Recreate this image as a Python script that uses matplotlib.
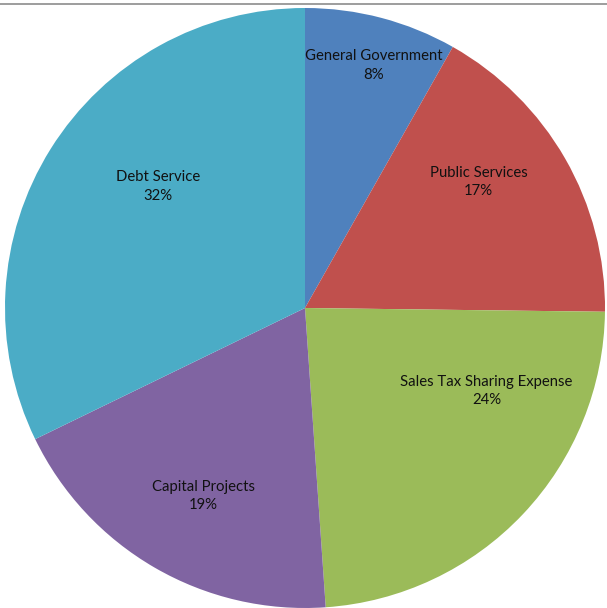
import matplotlib
matplotlib.use("Agg")
import matplotlib.pyplot as plt
from matplotlib.lines import Line2D

# data
categories = ["General Government", "Public Services", "Sales Tax Sharing Expense",
              "Capital Projects", "Debt Service"]
shares = [8.2, 17.0, 23.7, 18.9, 32.2]
colors = ["#4F81BD", "#C0504D", "#9BBB59", "#8064A2", "#4BACC6"]

# label placement inside the pie (axes data units), like the excel layout
label_xy = [(0.228, 0.808), (0.578, 0.42), (0.605, -0.277),
            (-0.338, -0.627), (-0.49, 0.405)]

W, H = 607, 608
fig = plt.figure(figsize=(W / 100, H / 100), dpi=100)

# pie box in pixels: left 5, right 605, top 8, bottom 608
ax = fig.add_axes([5 / W, 0 / H, 600 / W, 600 / H])
ax.pie(shares, colors=colors, startangle=90, counterclock=False,
       radius=1.0, wedgeprops=dict(linewidth=0))
ax.set_xlim(-1, 1)
ax.set_ylim(-1, 1)
ax.set_aspect("equal")
ax.axis("off")

total = sum(shares)
for name, val, (x, y) in zip(categories, shares, label_xy):
    ax.text(x, y, f"{name}\n{round(val / total * 100):.0f}%", ha="center", va="center",
            fontsize=10.7, family=["Lato", "DejaVu Sans"], color="#111111",
            linespacing=1.4)

# thin gray rule at the top
fig.add_artist(Line2D([0, 1], [1 - 3.5 / H, 1 - 3.5 / H], transform=fig.transFigure,
                      color="#8c8c8c", linewidth=1.2))

fig.savefig("out.png", dpi=100)
